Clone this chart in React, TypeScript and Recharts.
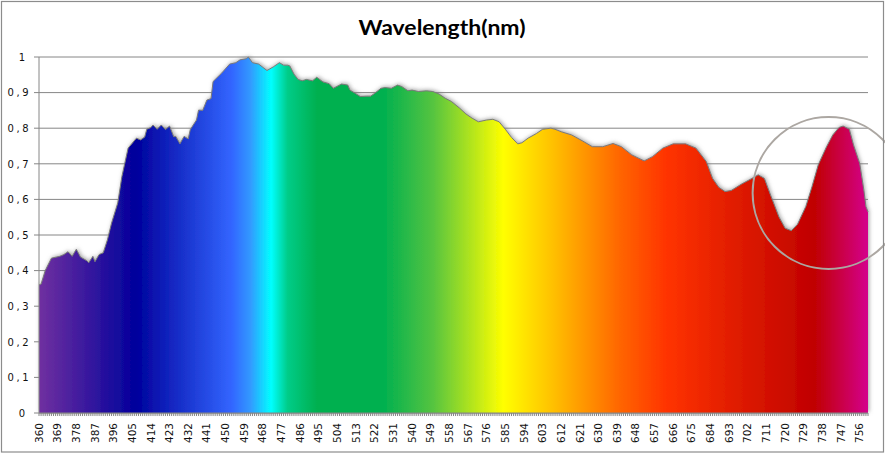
import React from 'react';
import { AreaChart, Area, XAxis, YAxis, CartesianGrid, ReferenceDot } from 'recharts';

const TITLE = 'Wavelength(nm)';
const START_NM = 360;
const END_NM = 760;
const LABEL_STEP = 9;

const wavelengths = [
  360, 361, 363, 366, 370, 372, 374, 376, 378, 380, 383, 384, 386, 387, 389, 391, 393, 395, 398, 400,
  403, 405, 407, 409, 411, 412, 414, 415, 417, 419, 421, 423, 425, 426, 428, 430, 432, 433, 436, 437,
  439, 441, 443, 444, 448, 452, 455, 457, 460, 461, 463, 466, 470, 473, 476, 478, 480, 481, 483, 485,
  487, 489, 492, 494, 497, 500, 502, 506, 509, 510, 512, 515, 518, 520, 522, 525, 527, 530, 533, 535,
  538, 540, 543, 547, 550, 553, 556, 559, 563, 566, 569, 572, 576, 579, 582, 585, 588, 591, 593, 596,
  600, 603, 607, 609, 612, 617, 622, 627, 632, 637, 641, 646, 652, 656, 661, 666, 672, 677, 682, 685,
  688, 691, 694, 699, 704, 707, 710, 713, 717, 720, 723, 726, 730, 733, 736, 740, 743, 746, 748, 751,
  753, 756, 758, 759, 760,
];

const intensity = [
  0.36, 0.362, 0.4, 0.435, 0.44, 0.445, 0.453, 0.44, 0.46, 0.438, 0.428, 0.422, 0.44, 0.425, 0.445, 0.45, 0.486, 0.533, 0.59, 0.664,
  0.744, 0.758, 0.772, 0.767, 0.775, 0.797, 0.802, 0.809, 0.797, 0.809, 0.796, 0.806, 0.776, 0.777, 0.756, 0.777, 0.77, 0.796, 0.823, 0.851,
  0.85, 0.879, 0.883, 0.931, 0.954, 0.98, 0.984, 0.992, 0.995, 1.0, 0.984, 0.98, 0.962, 0.972, 0.984, 0.977, 0.977, 0.975, 0.952, 0.937,
  0.933, 0.937, 0.933, 0.943, 0.93, 0.925, 0.912, 0.924, 0.921, 0.907, 0.9, 0.889, 0.89, 0.89, 0.898, 0.912, 0.914, 0.912, 0.921, 0.917,
  0.905, 0.907, 0.903, 0.905, 0.903, 0.896, 0.884, 0.875, 0.856, 0.84, 0.828, 0.818, 0.823, 0.825, 0.818, 0.797, 0.774, 0.756, 0.759, 0.772,
  0.785, 0.797, 0.8, 0.797, 0.79, 0.781, 0.765, 0.748, 0.748, 0.757, 0.748, 0.725, 0.708, 0.72, 0.744, 0.756, 0.756, 0.744, 0.706, 0.659,
  0.634, 0.622, 0.625, 0.643, 0.659, 0.669, 0.659, 0.612, 0.551, 0.519, 0.512, 0.53, 0.58, 0.636, 0.697, 0.748, 0.781, 0.802, 0.806, 0.797,
  0.753, 0.701, 0.626, 0.58, 0.565,
];

const yTicks = [0, 0.1, 0.2, 0.3, 0.4, 0.5, 0.6, 0.7, 0.8, 0.9, 1];

// highlighted region (circle annotation)
const highlightNm = 741;
const highlightValue = 0.618;

const spectrumStops: [number, string][] = [
  [0, '#7030a0'],
  [0.117, '#00009c'],
  [0.233, '#3366ff'],
  [0.255, '#3399ff'],
  [0.28, '#00ffff'],
  [0.3, '#00cc88'],
  [0.335, '#00b050'],
  [0.415, '#00b050'],
  [0.475, '#55c440'],
  [0.56, '#ffff00'],
  [0.62, '#ffc000'],
  [0.7, '#ff6600'],
  [0.757, '#ff3300'],
  [0.84, '#e01c00'],
  [0.935, '#c00000'],
  [1, '#d4008c'],
];

const data = wavelengths.map((nm, i) => ({ nm, v: intensity[i] }));
const allNmTicks = Array.from({ length: END_NM - START_NM + 1 }, (_, i) => START_NM + i);

const XTick = (props: any) => {
  const { x, y, payload } = props;
  const v = payload.value;
  if ((v - START_NM) % LABEL_STEP !== 0) return null;
  return (
    <text
      x={x}
      y={y}
      transform={`rotate(-90 ${x} ${y})`}
      textAnchor="end"
      dx={-5}
      dy="0.36em"
      fontFamily="DejaVu Sans, Verdana, sans-serif"
      fontSize={10}
      fill="#111"
      textLength={20}
      lengthAdjust="spacingAndGlyphs"
    >
      {String(v)}
    </text>
  );
};

const YTick = (props: any) => {
  const { x, y, payload } = props;
  const label = String(payload.value).replace('.', ',');
  const multi = label.length > 1;
  return (
    <text
      x={x}
      y={y}
      textAnchor="end"
      dx={multi ? -5.5 : -9}
      dy="0.37em"
      fontFamily="DejaVu Sans, Verdana, sans-serif"
      fontSize={10}
      fill="#111"
      {...(multi ? { textLength: 21, lengthAdjust: 'spacing' } : {})}
    >
      {label}
    </text>
  );
};

export default function App() {
  return (
    <div style={{ position: 'absolute', left: 0, top: 0, width: 885, height: 454, background: '#fff', overflow: 'hidden' }}>
      <style>{'.recharts-area-area{filter:url(#areaShadow);}'}</style>
      <AreaChart width={885} height={454} data={data} margin={{ top: 57, right: 17, left: 0, bottom: 0 }}>
        <defs>
          <linearGradient id="spectrum" x1="0" y1="0" x2="1" y2="0">
            {spectrumStops.map(([o, c]) => (
              <stop key={o} offset={o} stopColor={c} />
            ))}
          </linearGradient>
          <filter id="areaShadow" x="-3%" y="-8%" width="106%" height="116%">
            <feGaussianBlur in="SourceAlpha" stdDeviation="2.2" result="b" />
            <feOffset in="b" dx="1" dy="-1" result="o" />
            <feFlood floodColor="#777777" floodOpacity="0.7" />
            <feComposite in2="o" operator="in" result="s" />
            <feMerge>
              <feMergeNode in="s" />
              <feMergeNode in="SourceGraphic" />
            </feMerge>
          </filter>
        </defs>
        <CartesianGrid vertical={false} stroke="#868686" strokeWidth={1} />
        <XAxis
          dataKey="nm"
          type="number"
          domain={[START_NM, END_NM]}
          ticks={allNmTicks}
          interval={0}
          height={41}
          tickSize={3}
          tickMargin={2}
          axisLine={{ stroke: '#868686' }}
          tickLine={{ stroke: '#868686' }}
          tick={<XTick />}
        />
        <YAxis
          domain={[0, 1]}
          ticks={yTicks}
          interval={0}
          width={39}
          tickSize={5}
          tickMargin={0}
          axisLine={{ stroke: '#868686' }}
          tickLine={{ stroke: '#868686' }}
          tick={<YTick />}
        />
        <Area
          type="linear"
          dataKey="v"
          stroke="#7a7a7a"
          strokeWidth={1}
          fill="url(#spectrum)"
          fillOpacity={1}
          dot={false}
          activeDot={false}
          isAnimationActive={false}
        />
        <ReferenceDot
          x={highlightNm}
          y={highlightValue}
          r={76}
          fill="none"
          stroke="#aca7a2"
          strokeWidth={2}
          ifOverflow="visible"
        />
      </AreaChart>
      <svg width={885} height={454} style={{ position: 'absolute', left: 0, top: 0, pointerEvents: 'none' }}>
        <text
          x={442}
          y={35}
          textAnchor="middle"
          fontFamily="Lato, 'Open Sans', sans-serif"
          fontWeight="bold"
          fontSize={21}
          fill="#000"
          textLength={167}
          lengthAdjust="spacingAndGlyphs"
        >
          {TITLE}
        </text>
        <rect x={1.5} y={1.5} width={882} height={450.5} fill="none" stroke="#8c8c8c" strokeWidth={1.2} />
      </svg>
    </div>
  );
}
